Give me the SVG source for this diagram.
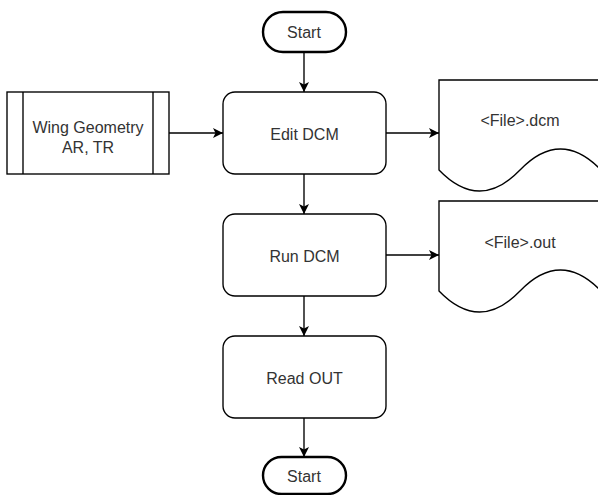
<svg xmlns="http://www.w3.org/2000/svg" width="598" height="495" viewBox="0 0 598 495">
  <defs>
    <marker id="arrow" viewBox="0 0 10 10" refX="10" refY="5" markerWidth="10" markerHeight="10" markerUnits="userSpaceOnUse" orient="auto">
      <path d="M0,0 L10,5 L0,10 L2.5,5 Z" fill="#000"/>
    </marker>
    <style>
      .box { fill: #fff; stroke: #000; stroke-width: 1.36; }
      .term { fill: #fff; stroke: #000; stroke-width: 2.4; }
      .edge { fill: none; stroke: #000; stroke-width: 1.36; marker-end: url(#arrow); }
      .lbl { font-family: "Liberation Sans", Arial, sans-serif; font-size: 16px; fill: #333; text-anchor: middle; dominant-baseline: central; }
    </style>
  </defs>
  <rect width="598" height="495" fill="#fff"/>

  <g id="connectors">
    <path class="edge" d="M304,52 L304,92"/>
    <path class="edge" d="M169,133 L223,133"/>
    <path class="edge" d="M386,133 L439,133"/>
    <path class="edge" d="M304,174 L304,214"/>
    <path class="edge" d="M386,255 L439,255"/>
    <path class="edge" d="M304,296 L304,336"/>
    <path class="edge" d="M304,418 L304,457"/>
  </g>

  <g id="start">
    <rect class="term" x="263" y="12" width="83" height="40" rx="20" ry="20"/>
    <text class="lbl" x="304" y="32">Start</text>
  </g>

  <g id="wing-geometry">
    <rect class="box" x="7" y="92" width="162" height="82"/>
    <line class="box" x1="23" y1="92" x2="23" y2="174"/>
    <line class="box" x1="153" y1="92" x2="153" y2="174"/>
    <text class="lbl" x="88" y="127">Wing Geometry</text>
    <text class="lbl" x="88" y="147">AR, TR</text>
  </g>

  <g id="edit-dcm">
    <rect class="box" x="223" y="92" width="163" height="82" rx="12" ry="12"/>
    <text class="lbl" x="304.5" y="134">Edit DCM</text>
  </g>

  <g id="file-dcm">
    <path class="box" d="M439,80 L601,80 L601,170 Q560.5,128 520,170 Q479.5,212 439,170 Z"/>
    <text class="lbl" x="520" y="120">&lt;File&gt;.dcm</text>
  </g>

  <g id="run-dcm">
    <rect class="box" x="223" y="214" width="163" height="82" rx="12" ry="12"/>
    <text class="lbl" x="304.5" y="256">Run DCM</text>
  </g>

  <g id="file-out">
    <path class="box" d="M439,201 L601,201 L601,291 Q560.5,249 520,291 Q479.5,333 439,291 Z"/>
    <text class="lbl" x="520" y="242">&lt;File&gt;.out</text>
  </g>

  <g id="read-out">
    <rect class="box" x="223" y="336" width="163" height="82" rx="12" ry="12"/>
    <text class="lbl" x="304.5" y="378">Read OUT</text>
  </g>

  <g id="end">
    <rect class="term" x="263" y="457" width="83" height="37" rx="18.5" ry="18.5"/>
    <text class="lbl" x="304" y="476.5">Start</text>
  </g>
</svg>
